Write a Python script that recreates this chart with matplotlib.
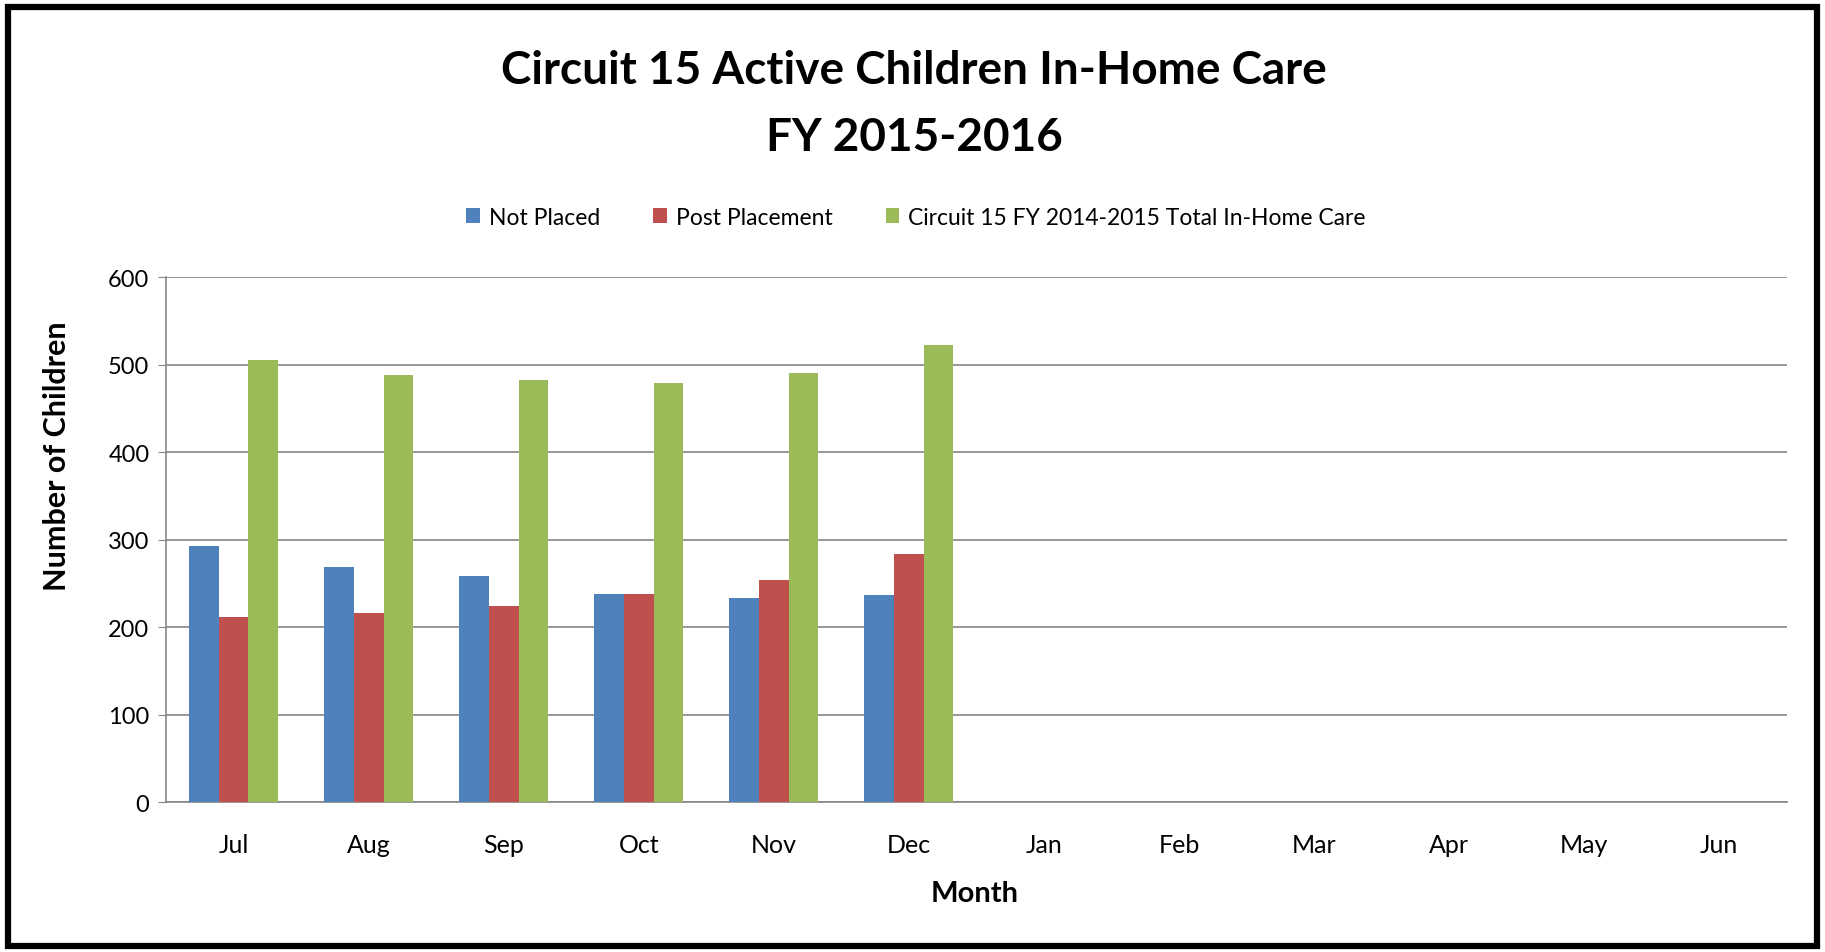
import numpy as np
import matplotlib
matplotlib.use("Agg")
import matplotlib.pyplot as plt
from matplotlib.patches import Rectangle

plt.rcParams['font.family'] = ['Lato', 'DejaVu Sans']

# data
months = ['Jul', 'Aug', 'Sep', 'Oct', 'Nov', 'Dec', 'Jan', 'Feb', 'Mar', 'Apr', 'May', 'Jun']
not_placed = [293, 269, 259, 238, 234, 237]
post_placement = [212, 216, 224, 238, 254, 284]
total_prev_fy = [505, 488, 483, 479, 491, 523]

series_names = ['Not Placed', 'Post Placement', 'Circuit 15 FY 2014-2015 Total In-Home Care']
series_colors = ['#4F81BD', '#C0504D', '#9BBB59']

fig = plt.figure(figsize=(18.25, 9.53), dpi=100)
ax = fig.add_axes([0.091, 0.157, 0.888, 0.551])

x = np.arange(len(months))
w = 0.22
for i, (vals, name, col) in enumerate(zip([not_placed, post_placement, total_prev_fy], series_names, series_colors)):
    xs = x[:len(vals)] + (i - 1) * w
    ax.bar(xs, vals, width=w, color=col, label=name, zorder=3)

ax.set_xlim(-0.5, len(months) - 0.5)
ax.set_ylim(0, 600)
ax.set_yticks(range(0, 601, 100))
ax.set_xticks(x)
ax.set_xticklabels(months, fontsize=18)
ax.tick_params(axis='x', length=0, pad=22)
ax.tick_params(axis='y', labelsize=17, length=6, color='#868686', pad=6)
ax.grid(axis='y', color='#868686', linewidth=1.2, zorder=0)
for s in ['top', 'right']:
    ax.spines[s].set_visible(False)
ax.spines['left'].set_color('#868686')
ax.spines['bottom'].set_color('#868686')
ax.spines['left'].set_linewidth(1.2)
ax.spines['bottom'].set_linewidth(1.2)

fig.text(0.534, 0.062, 'Month', ha='center', va='center', fontsize=21, fontweight='bold')
fig.text(0.031, 0.521, 'Number of Children', ha='center', va='center', rotation=90,
         fontsize=22, fontweight='bold')

fig.text(0.501, 0.925, 'Circuit 15 Active Children In-Home Care', ha='center', va='center',
         fontsize=33, fontweight='bold')
fig.text(0.501, 0.855, 'FY 2015-2016', ha='center', va='center', fontsize=33, fontweight='bold')

leg = fig.legend(loc='center', bbox_to_anchor=(0.502, 0.771), ncol=3, frameon=False, fontsize=16.5,
                 handlelength=0.6, handleheight=0.6, handletextpad=0.4, columnspacing=2.3)

fig.patches.append(Rectangle((0.0045, 0.006), 0.991, 0.986, transform=fig.transFigure,
                             fill=False, edgecolor='black', linewidth=4.5))

fig.savefig('out.png', dpi=100)
